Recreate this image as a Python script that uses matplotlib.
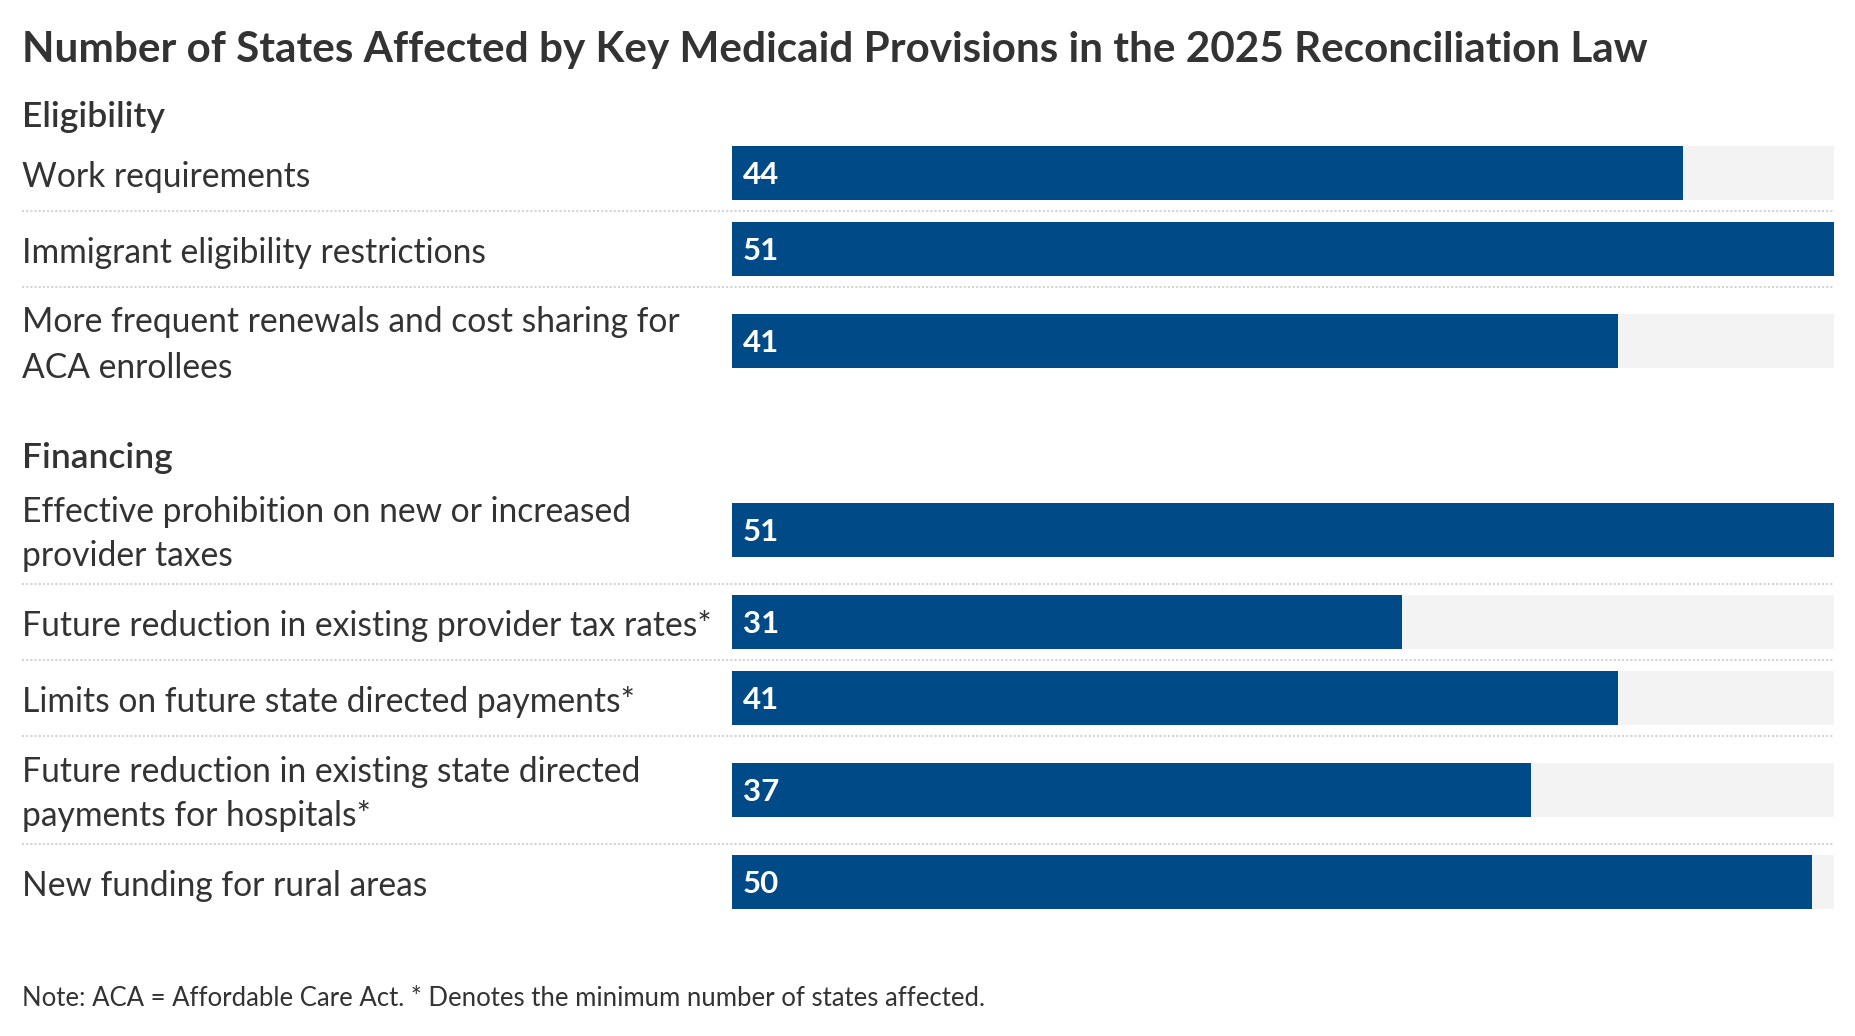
import matplotlib
matplotlib.use('Agg')
import matplotlib.pyplot as plt

# Data
TITLE = 'Number of States Affected by Key Medicaid Provisions in the 2025 Reconciliation Law'
NOTE = 'Note: ACA = Affordable Care Act. * Denotes the minimum number of states affected.'
TOTAL_STATES = 51

groups = ['Eligibility', 'Financing']
eligibility_labels = [
    'Work requirements',
    'Immigrant eligibility restrictions',
    'More frequent renewals and cost sharing for\nACA enrollees',
]
eligibility_values = [44, 51, 41]
financing_labels = [
    'Effective prohibition on new or increased\nprovider taxes',
    'Future reduction in existing provider tax rates*',
    'Limits on future state directed payments*',
    'Future reduction in existing state directed\npayments for hospitals*',
    'New funding for rural areas',
]
financing_values = [51, 31, 41, 37, 50]

# Layout (pixels)
W, H = 1856, 1036
LEFT = 22
BAR_X0, BAR_X1 = 732, 1834
ROW_1LINE, ROW_2LINE = 76, 108
BAR_H = 54
BAR_COLOR = '#004B87'
BG_COLOR = '#F3F3F3'
TEXT_COLOR = '#333333'
FONT = ['Lato', 'DejaVu Sans']

plt.rcParams['font.family'] = FONT

fig = plt.figure(figsize=(W / 100, H / 100), dpi=100, facecolor='white')
canvas = fig.add_axes([0, 0, 1, 1])
canvas.set_xlim(0, W)
canvas.set_ylim(H, 0)
canvas.axis('off')

ax = fig.add_axes([BAR_X0 / W, 0, (BAR_X1 - BAR_X0) / W, 1])
ax.set_xlim(0, TOTAL_STATES)
ax.set_ylim(H, 0)
ax.axis('off')

canvas.text(LEFT, 50, TITLE, fontsize=30.4, fontweight='bold', color=TEXT_COLOR,
            va='center', ha='left')

group_data = [(eligibility_labels, eligibility_values),
              (financing_labels, financing_values)]
group_tops = [115, 456]

for name, top, (labels, values) in zip(groups, group_tops, group_data):
    canvas.text(LEFT, top + 2, name, fontsize=25.5, fontweight='semibold',
                color=TEXT_COLOR, va='center', ha='left')
    y = top + 20
    for i, (lab, val) in enumerate(zip(labels, values)):
        h = ROW_2LINE if '\n' in lab else ROW_1LINE
        c = y + h / 2
        ax.barh(c, TOTAL_STATES, height=BAR_H, color=BG_COLOR)
        ax.barh(c, val, height=BAR_H, color=BAR_COLOR)
        ax.text(0.5, c + 2, str(val), color='white', fontsize=22.5, fontweight='bold',
                va='center', ha='left')
        canvas.text(LEFT, c + 4, lab, fontsize=24.2, color=TEXT_COLOR, va='center',
                    ha='left', linespacing=1.5)
        y += h
        if i < len(labels) - 1:
            canvas.plot([LEFT, BAR_X1], [y, y], color='#D4D4D4', lw=1.5,
                        linestyle=(0, (1, 1)))

canvas.text(LEFT, 998, NOTE, fontsize=18.5, color=TEXT_COLOR, va='center', ha='left')

fig.savefig('out.png', dpi=100, facecolor='white')
